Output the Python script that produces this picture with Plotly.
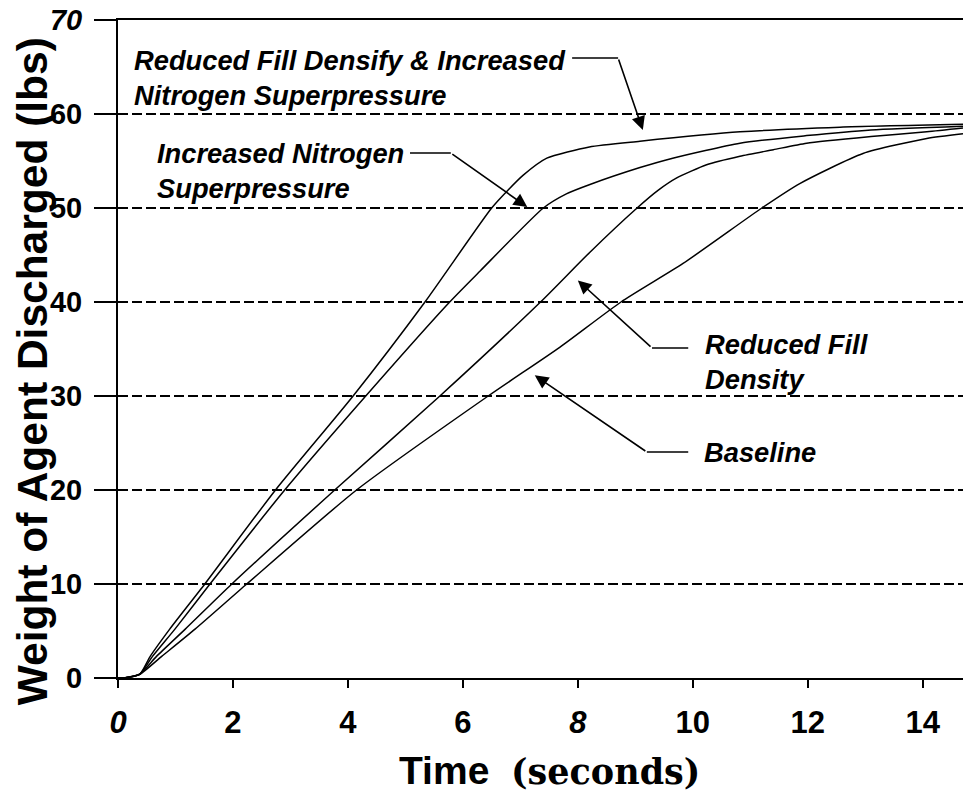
import plotly.graph_objects as go

# ---- data ----
t_both = [0, 0.15, 0.38, 0.56, 0.9, 1.51, 2.74, 4.09, 5.34, 6.5, 6.8, 7.05, 7.46, 8.2, 9.08, 10.82, 12.56, 14.7]
w_both = [0, 0.05, 0.4, 2.3, 5.2, 10, 20, 30, 40, 50, 52.0, 53.5, 55.3, 56.5, 57.1, 58.1, 58.6, 58.9]

t_n2 = [0, 0.15, 0.38, 0.6, 0.99, 1.6, 2.9, 4.31, 5.77, 6.3, 7.4, 7.8, 8.21, 9.08, 9.65, 10.82, 11.98, 13.1, 14.7]
w_n2 = [0, 0.05, 0.4, 2.3, 5.2, 10, 20, 30, 40, 43.3, 50, 51.5, 52.5, 54.3, 55.3, 56.9, 57.7, 58.3, 58.7]

t_fill = [0, 0.15, 0.38, 0.67, 1.17, 1.98, 3.77, 5.6, 7.35, 8.21, 9.03, 9.4, 9.72, 10.24, 10.82, 11.4, 11.98, 13.1, 14.07, 14.7]
w_fill = [0, 0.05, 0.4, 2.3, 5.2, 10, 20, 30, 40, 45.3, 50, 51.9, 53.2, 54.6, 55.5, 56.2, 56.9, 57.6, 58.1, 58.5]

t_base = [0, 0.15, 0.38, 0.76, 1.34, 2.24, 4.15, 6.44, 7.69, 8.75, 9.83, 11.2, 11.86, 12.96, 14.07, 14.7]
w_base = [0, 0.05, 0.4, 2.3, 5.2, 10, 20, 30, 35.2, 40, 44.1, 50, 52.6, 55.8, 57.4, 57.9]

x_ticks = [0, 2, 4, 6, 8, 10, 12, 14]
x_ticktext = ["<i>0</i>", "2", "4", "6", "<i>8</i>", "10", "12", "14"]
y_ticks = [0, 10, 20, 30, 40, 50, 60, 70]
y_ticktext = ["0", "10", "20", "30", "40", "50", "60", "<i>70</i>"]

label_both = "Reduced Fill Densify & Increased<br>Nitrogen Superpressure"
label_n2 = "Increased Nitrogen<br>Superpressure"
label_fill = "Reduced Fill<br>Density"
label_base = "Baseline"

FONT = "Liberation Sans, Arial, sans-serif"

fig = go.Figure()
for tx, wy in [(t_both, w_both), (t_n2, w_n2), (t_fill, w_fill), (t_base, w_base)]:
    fig.add_trace(go.Scatter(x=tx, y=wy, mode="lines",
                             line=dict(color="black", width=1.5, shape="spline", smoothing=0.6),
                             showlegend=False, hoverinfo="skip"))

ann_font = dict(family=FONT, size=27.3, color="black", style="italic", weight="bold")

annotations = [
    dict(x=0.24, y=63.8, text=label_both, showarrow=False, xanchor="left", yanchor="middle", align="left", font=ann_font),
    dict(x=0.64, y=53.9, text=label_n2, showarrow=False, xanchor="left", yanchor="middle", align="left", font=ann_font),
    dict(x=10.18, y=33.67, text=label_fill, showarrow=False, xanchor="left", yanchor="middle", align="left", font=ann_font),
    dict(x=10.16, y=24.04, text=label_base, showarrow=False, xanchor="left", yanchor="middle", align="left", font=ann_font),
]

# leader lines: (horizontal start x, bend x, y of horizontal, tip x, tip y)
leaders = [
    (7.90, 8.70, 65.96, 9.13, 58.3),
    (5.08, 5.79, 55.85, 7.12, 50.1),
    (9.92, 9.29, 35.1, 8.00, 42.3),
    (9.92, 9.20, 24.04, 7.25, 32.2),
]
shapes = []
for x0, xb, yh, xt, yt in leaders:
    shapes.append(dict(type="line", xref="x", yref="y", x0=x0, x1=xb, y0=yh, y1=yh,
                       line=dict(color="black", width=1.6)))
    annotations.append(dict(x=xt, y=yt, ax=xb, ay=yh, axref="x", ayref="y", xref="x", yref="y",
                            text="", showarrow=True, arrowhead=2, arrowsize=1.7, arrowwidth=1.6,
                            arrowcolor="black", standoff=0))

# axis titles
annotations.append(dict(xref="paper", yref="paper", x=-0.1018, y=0.466, textangle=-90,
                        text="Weight of Agent Discharged (lbs)", showarrow=False,
                        xanchor="center", yanchor="middle",
                        font=dict(family=FONT, size=42.5, color="black", weight="bold")))
annotations.append(dict(xref="paper", yref="paper", x=0.511, y=-0.14,
                        text="Time  <span style=\"font-family:'DejaVu Serif', serif;font-size:35px\">(seconds)</span>",
                        showarrow=False, xanchor="center", yanchor="middle",
                        font=dict(family=FONT, size=39, color="black", weight="bold")))

fig.update_layout(
    width=963, height=798,
    margin=dict(l=118, r=0, t=20, b=120),
    paper_bgcolor="white", plot_bgcolor="white",
    annotations=annotations, shapes=shapes,
    xaxis=dict(range=[0, 14.7], tickmode="array", tickvals=x_ticks, ticktext=x_ticktext,
               showgrid=False, zeroline=False, showline=True, linecolor="black", linewidth=2,
               mirror=True, ticks="outside", ticklen=8, tickwidth=1.5, tickcolor="black",
               ticklabelstandoff=8,
               tickfont=dict(family=FONT, size=31, color="black", weight="bold")),
    yaxis=dict(range=[0, 70], tickmode="array", tickvals=y_ticks, ticktext=y_ticktext,
               showgrid=True, gridcolor="black", gridwidth=1.5, griddash="10px,4px",
               zeroline=False, showline=True, linecolor="black", linewidth=2,
               ticks="outside", ticklen=22, tickwidth=1.5, tickcolor="black",
               ticklabelstandoff=6,
               tickfont=dict(family=FONT, size=29, color="black", weight="bold")),
)

fig.write_html("out.html", config={"displayModeBar": False},
               post_script="document.body.style.margin='0px';document.body.style.overflow='hidden';")
